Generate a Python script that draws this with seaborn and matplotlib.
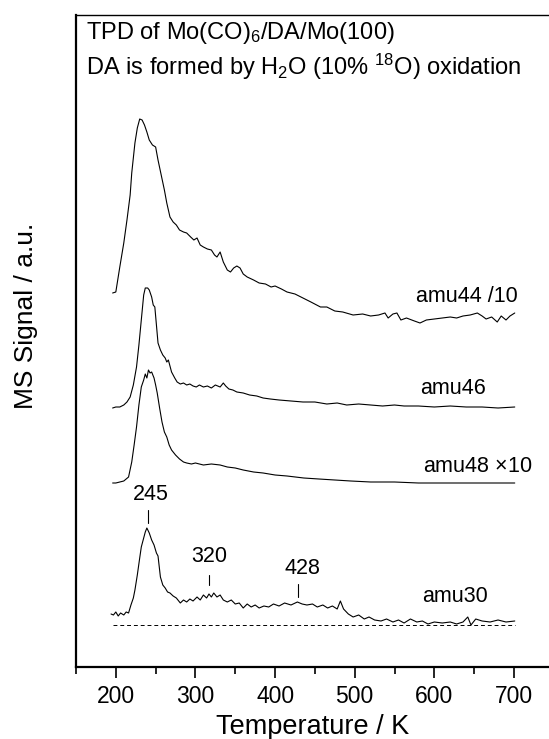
import matplotlib
matplotlib.use("Agg")
import matplotlib.pyplot as plt
import seaborn as sns
import pandas as pd
import numpy as np
from matplotlib.ticker import MultipleLocator

sns.set_style("ticks")
plt.rcParams['font.family'] = ['Liberation Sans', 'DejaVu Sans']
plt.rcParams['mathtext.fontset'] = 'custom'
plt.rcParams['mathtext.rm'] = 'Liberation Sans'
plt.rcParams['mathtext.it'] = 'Liberation Sans:italic'
plt.rcParams['mathtext.bf'] = 'Liberation Sans:bold'
for key in ['text.color', 'axes.labelcolor', 'xtick.color', 'ytick.color', 'axes.edgecolor']:
    plt.rcParams[key] = 'black'

# ---- data (temperature in K, MS signal in arbitrary units incl. offsets) ----
t44 = [196, 200, 205, 210, 214, 218, 220, 224, 227, 230, 233, 236, 239, 242, 246, 250, 253, 257, 261, 264,
       266, 268, 272, 276, 280, 285, 289, 294, 298, 302, 306, 310, 315, 320, 324, 327, 331, 335, 340, 344,
       348, 352, 356, 360, 365, 373, 380, 388, 395, 400, 408, 415, 425, 435, 445, 457, 465, 475, 485, 498,
       510, 520, 530, 538, 542, 548, 553, 558, 565, 575, 582, 590, 600, 610, 620, 628, 636, 645, 654, 660,
       665, 672, 679, 684, 690, 695, 701]
s44 = [374, 375, 400, 424, 447, 472, 494, 524, 539, 548, 547, 542, 535, 527, 522, 520, 507, 492, 477, 464,
       457, 450, 445, 442, 437, 435, 434, 430, 427, 429, 422, 420, 418, 417, 412, 410, 415, 405, 397, 395,
       399, 401, 399, 393, 390, 387, 384, 383, 380, 381, 378, 375, 373, 369, 365, 360, 360, 356, 355, 352,
       353, 351, 352, 354, 349, 353, 354, 347, 349, 346, 344, 347, 348, 349, 350, 349, 351, 352, 354, 351,
       348, 350, 345, 351, 347, 351, 354]

t46 = [196, 200, 205, 210, 214, 218, 222, 226, 229, 232, 235, 237, 240, 242, 245, 247, 249, 251, 253, 256,
       259, 262, 264, 266, 268, 270, 274, 277, 281, 285, 289, 293, 297, 301, 305, 310, 315, 320, 325, 331,
       335, 338, 342, 347, 352, 360, 368, 377, 385, 394, 405, 420, 435, 450, 465, 478, 490, 505, 520, 535,
       550, 562, 580, 600, 620, 640, 660, 680, 701]
s46 = [259, 260, 260, 262, 265, 270, 282, 300, 322, 347, 372, 379, 379, 377, 370, 362, 360, 342, 324, 317,
       312, 309, 305, 307, 301, 295, 289, 285, 283, 284, 282, 283, 281, 280, 282, 280, 281, 279, 282, 280,
       284, 281, 278, 277, 275, 274, 272, 271, 269, 268, 267, 266, 265, 265, 263, 264, 262, 263, 262, 261,
       262, 261, 261, 260, 261, 260, 260, 259, 260]

t48 = [196, 200, 205, 210, 216, 220, 223, 226, 229, 232, 235, 237, 239, 241, 243, 245, 248, 250, 252, 255,
       258, 261, 264, 267, 270, 275, 280, 285, 289, 295, 300, 310, 320, 331, 340, 350, 360, 373, 385, 400,
       415, 436, 455, 475, 495, 520, 550, 580, 610, 640, 670, 701]
s48 = [184, 184, 185, 186, 190, 205, 222, 240, 262, 280, 287, 293, 289, 297, 294, 295, 289, 282, 274, 259,
       245, 235, 230, 222, 217, 212, 208, 205, 204, 203, 204, 202, 203, 202, 200, 199, 197, 195, 194, 192,
       191, 189, 188, 187, 186, 185, 185, 184, 184, 184, 184, 184]

t30 = [194, 197, 200, 203, 206, 210, 213, 216, 219, 222, 224, 227, 230, 232, 235, 237, 239, 242, 245, 248,
       251, 253, 256, 259, 262, 265, 268, 272, 276, 281, 285, 289, 293, 297, 302, 306, 310, 314, 317, 320,
       323, 327, 331, 335, 340, 345, 350, 355, 360, 365, 370, 375, 380, 386, 392, 398, 405, 412, 420, 428,
       434, 440, 447, 453, 460, 466, 472, 478, 482, 486, 492, 498, 505, 512, 518, 525, 533, 540, 548, 555,
       562, 570, 578, 585, 592, 600, 610, 620, 628, 636, 642, 646, 652, 660, 670, 680, 690, 701]
s30 = [53, 52, 55, 51, 54, 52, 55, 54, 62, 69, 77, 92, 109, 120, 129, 135, 139, 134, 127, 122,
       114, 111, 90, 82, 79, 75, 74, 71, 69, 64, 67, 65, 68, 66, 70, 67, 72, 69, 73, 70,
       74, 70, 72, 67, 65, 67, 63, 64, 59, 63, 60, 62, 59, 61, 60, 63, 61, 64, 62, 65,
       63, 62, 63, 60, 62, 59, 61, 58, 66, 58, 53, 50, 52, 48, 50, 47, 46, 48, 45, 47,
       44, 48, 45, 46, 43, 45, 44, 45, 43, 45, 50, 42, 48, 46, 45, 47, 45, 46]

baseline_t = [196, 701]
baseline_s = [42, 42]

peak_labels = ["245", "320", "428"]
peak_t = [240, 317, 429]
peak_text_t = [244, 317, 434]
peak_text_s = [172, 110, 98]
peak_tick = [(144, 157), (82, 92), (70, 83)]

series_labels = ["amu44 /10", "amu46", "amu48 $\\times$10", "amu30"]
series_label_t = [641, 623, 654, 626]
series_label_s = [370, 279, 201, 70]

title1 = "TPD of Mo(CO)$_6$/DA/Mo(100)"
title2 = "DA is formed by H$_2$O (10% $^{18}$O) oxidation"

W, H = 549, 739
fig = plt.figure(figsize=(W / 100, H / 100), dpi=100)
ax = fig.add_axes([76 / W, (H - 667) / H, 473 / W, 652 / H])

for t, s in [(t44, s44), (t46, s46), (t48, s48), (t30, s30)]:
    df = pd.DataFrame({"T": t, "S": s})
    sns.lineplot(data=df, x="T", y="S", ax=ax, color="black", lw=0.8, sort=False, estimator=None)

sns.lineplot(x=baseline_t, y=baseline_s, ax=ax, color="black", lw=0.7, linestyle=(0, (4, 3)))

for lab, pt, tx, ty, (y0, y1) in zip(peak_labels, peak_t, peak_text_t, peak_text_s, peak_tick):
    ax.plot([pt, pt], [y0, y1], color="black", lw=0.8)
    ax.text(tx, ty, lab, ha="center", va="center", fontsize=15.5)

for lab, tx, ty in zip(series_labels, series_label_t, series_label_s):
    ax.text(tx, ty, lab, ha="center", va="center", fontsize=15.5)

ax.text(0.022, 0.972, title1, transform=ax.transAxes, ha="left", va="center", fontsize=17)
ax.text(0.022, 0.920, title2, transform=ax.transAxes, ha="left", va="center", fontsize=17)

ax.set_xlim(150, 744)
ax.set_ylim(0, 652)
ax.xaxis.set_major_locator(MultipleLocator(100))
ax.xaxis.set_minor_locator(MultipleLocator(50))
ax.set_yticks([])
ax.tick_params(axis="x", which="major", direction="out", length=8, width=1.2, labelsize=16.5, pad=5)
ax.tick_params(axis="x", which="minor", direction="out", length=5, width=1.2)
ax.set_xlabel("Temperature / K", fontsize=19.5)
ax.xaxis.set_label_coords(0.5, -0.072)
ax.set_ylabel("MS Signal / a.u.", fontsize=19)
ax.yaxis.set_label_coords(-0.08, 0.538)
for side in ["left", "bottom"]:
    ax.spines[side].set_linewidth(1.6)
ax.spines["top"].set_linewidth(1.0)
ax.spines["right"].set_visible(False)

fig.savefig("out.png", dpi=100)
